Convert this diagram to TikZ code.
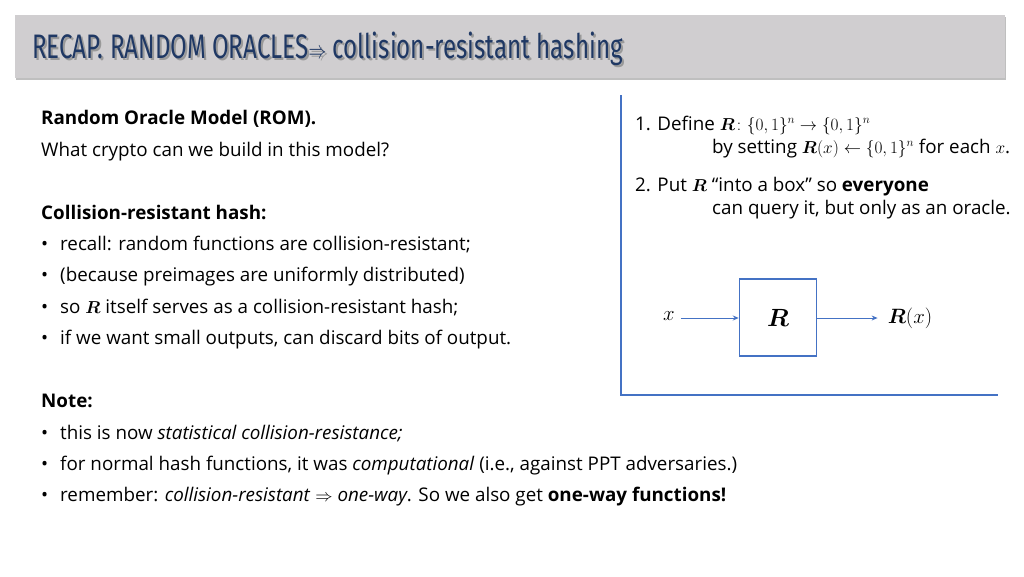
\documentclass[tikz,border=0pt]{standalone}
\usepackage{fontspec}
\usepackage{amsmath,bm}
\setmainfont{Open Sans}
\newfontfamily\titlefont{Fira Sans}
\usetikzlibrary{arrows.meta,shadows,calc}
\definecolor{hdr}{HTML}{D0CED0}
\definecolor{navy}{HTML}{1F3864}
\definecolor{lblue}{HTML}{4472C4}
\begin{document}
\begin{tikzpicture}[x=1pt,y=-1pt,
  txt/.style={anchor=base west,inner sep=0pt,font=\fontsize{18.8}{20}\selectfont},
  bul/.style={anchor=base west,inner sep=0pt,font=\fontsize{18.8}{20}\selectfont},
  arr/.style={draw=lblue,-{Stealth[length=6pt,width=5pt]},line width=1pt}]
\useasboundingbox (0,0) rectangle (1024,576);
\fill[white] (0,0) rectangle (1024,576);
\node[fill=hdr,minimum width=990,minimum height=63,anchor=north west,inner sep=0,
  drop shadow={shadow xshift=1pt,shadow yshift=-2pt,opacity=0.5}] (hdr) at (15,15) {};
\node[anchor=west,inner sep=0,text=gray!80,font=\titlefont\fontsize{34}{36}\selectfont] (tsh) at (34,50.5)
  {\scalebox{0.71}[1]{RECAP. RANDOM ORACLES$\Rightarrow$ collision-resistant hashing}};
\node[anchor=west,inner sep=0,text=navy,font=\titlefont\fontsize{34}{36}\selectfont] (title) at (32,48.5)
  {\scalebox{0.71}[1]{RECAP. RANDOM ORACLES$\Rightarrow$ collision-resistant hashing}};
% left text
\node[txt] (l1) at (41,124) {\textbf{Random Oracle Model (ROM).}};
\node[txt] (l2) at (41,156) {What crypto can we build in this model?};
\node[txt] (l3) at (41,219) {\textbf{Collision-resistant hash:}};
\foreach \y/\t [count=\i] in {250/{recall: random functions are collision-resistant;},
  281/{(because preimages are uniformly distributed)},
  313/{so $\bm{R}$ itself serves as a collision-resistant hash;},
  344/{if we want small outputs, can discard bits of output.}}{
  \node[bul] (b\i) at (41,\y) {•};
  \node[txt] (t\i) at (60,\y) {\t};}
\node[txt] (n0) at (41,407) {\textbf{Note:}};
\foreach \y/\t [count=\i] in {439/{this is now \textit{statistical collision-resistance;}},
  470/{for normal hash functions, it was \textit{computational} (i.e., against PPT adversaries.)},
  501/{remember: \textit{collision-resistant} $\Rightarrow$ \textit{one-way}. So we also get \textbf{one-way functions!}}}{
  \node[bul] (nb\i) at (41,\y) {•};
  \node[txt] (nt\i) at (60,\y) {\t};}
% right panel
\draw[lblue,line width=1.2pt] (621,95) -- (621,395) -- (998,395);
\node[txt] (r1) at (635,130) {1. Define $\bm{R}\colon\{0,1\}^n\rightarrow\{0,1\}^n$};
\node[txt] (r2) at (712,153) {by setting $\bm{R}(x)\leftarrow\{0,1\}^n$ for each $x$.};
\node[txt] (r3) at (635,191) {2. Put $\bm{R}$ ``into a box'' so \textbf{everyone}};
\node[txt] (r4) at (712,214) {can query it, but only as an oracle.};
\node[draw=lblue,line width=1.5pt,minimum width=77,minimum height=77,inner sep=0] (R) at (778,317.5)
  {\fontsize{30}{32}\selectfont$\bm{R}$};
\node[inner sep=0,font=\fontsize{22}{24}\selectfont] (x) at (669,316) {$x$};
\node[inner sep=0,font=\fontsize{22}{24}\selectfont] (Rx) at (910,318) {$\bm{R}(x)$};
\draw[arr] ($(x.east)+(6,2)$) coordinate (xs) -- (R.west|-xs);
\draw[arr] (R.east|-xs) -- ($(Rx.west|-xs)+(-10,0)$);
\end{tikzpicture}
\end{document}
